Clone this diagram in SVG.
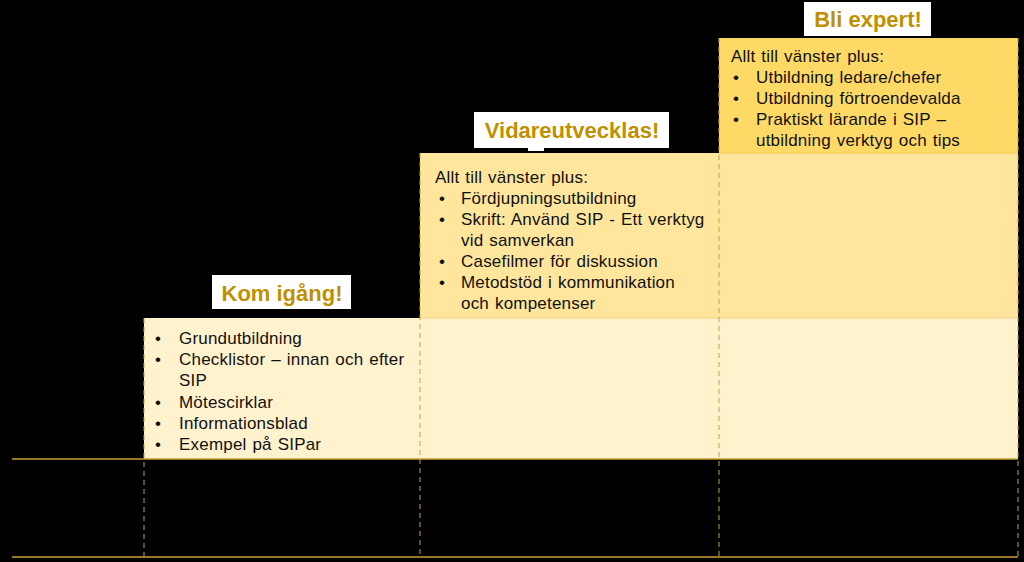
<svg xmlns="http://www.w3.org/2000/svg" width="1024" height="562" viewBox="0 0 1024 562">
<style>
.body{font-family:"Liberation Sans",Arial,sans-serif;font-size:17px;letter-spacing:0.2px;word-spacing:1px;fill:#111}
.lbl{font-family:"Liberation Sans",Arial,sans-serif;font-size:22px;font-weight:bold;fill:#BF9000}
.dash{stroke:#C9A13B;stroke-width:1;stroke-dasharray:5,4;fill:none}
.rule{stroke:#C9A13B;stroke-width:1.5;fill:none}
</style>
<rect x="0" y="0" width="1024" height="562" fill="#000"/>
<g id="tier-bottom">
<rect x="144" y="318" width="874" height="141" fill="#FFF2CC"/>
<text class="body" x="155" y="344">•</text><text class="body" x="179" y="344">Grundutbildning</text>
<text class="body" x="155" y="365">•</text><text class="body" x="179" y="365">Checklistor – innan och efter</text>
<text class="body" x="179" y="386">SIP</text>
<text class="body" x="155" y="408">•</text><text class="body" x="179" y="408">Mötescirklar</text>
<text class="body" x="155" y="429">•</text><text class="body" x="179" y="429">Informationsblad</text>
<text class="body" x="155" y="450">•</text><text class="body" x="179" y="450">Exempel på SIPar</text>
</g>
<g id="tier-middle">
<rect x="420" y="153" width="598" height="165" fill="#FFE69C"/>
<line x1="420" y1="318" x2="1018" y2="318" stroke="#F2D48A" stroke-width="1"/>
<text class="body" x="435" y="183">Allt till vänster plus:</text>
<text class="body" x="439" y="204">•</text><text class="body" x="461" y="204">Fördjupningsutbildning</text>
<text class="body" x="439" y="225">•</text><text class="body" x="461" y="225">Skrift: Använd SIP - Ett verktyg</text>
<text class="body" x="461" y="246">vid samverkan</text>
<text class="body" x="439" y="267">•</text><text class="body" x="461" y="267">Casefilmer för diskussion</text>
<text class="body" x="439" y="288">•</text><text class="body" x="461" y="288">Metodstöd i kommunikation</text>
<text class="body" x="461" y="309">och kompetenser</text>
</g>
<g id="tier-top">
<rect x="719" y="38" width="299" height="115" fill="#FFD966"/>
<line x1="719" y1="153" x2="1018" y2="153" stroke="#F2C955" stroke-width="1"/>
<text class="body" x="731" y="62">Allt till vänster plus:</text>
<text class="body" x="733" y="83">•</text><text class="body" x="756" y="83">Utbildning ledare/chefer</text>
<text class="body" x="733" y="104">•</text><text class="body" x="756" y="104">Utbildning förtroendevalda</text>
<text class="body" x="733" y="125">•</text><text class="body" x="756" y="125">Praktiskt lärande i SIP –</text>
<text class="body" x="756" y="146">utbildning verktyg och tips</text>
</g>
<g id="connectors">
<line class="rule" x1="12" y1="459" x2="1018" y2="459"/>
<line class="rule" x1="12" y1="557" x2="1018" y2="557"/>
<line class="dash" x1="144" y1="318" x2="144" y2="557"/>
<line class="dash" x1="420" y1="153" x2="420" y2="557"/>
<line class="dash" x1="719" y1="38" x2="719" y2="557"/>
<line class="dash" x1="1018" y1="38" x2="1018" y2="557"/>
</g>
<g id="label-kom">
<rect x="212" y="275" width="139" height="34" fill="#fff"/>
<text class="lbl" x="282" y="301" text-anchor="middle">Kom igång!</text>
</g>
<g id="label-vidare">
<rect x="474" y="112" width="195" height="36" fill="#fff"/>
<rect x="528" y="147" width="16" height="4" fill="#fff"/>
<text class="lbl" x="572" y="138" text-anchor="middle">Vidareutvecklas!</text>
</g>
<g id="label-expert">
<rect x="804" y="2" width="127" height="34" fill="#fff"/>
<text class="lbl" x="868" y="27" text-anchor="middle">Bli expert!</text>
</g>
</svg>
